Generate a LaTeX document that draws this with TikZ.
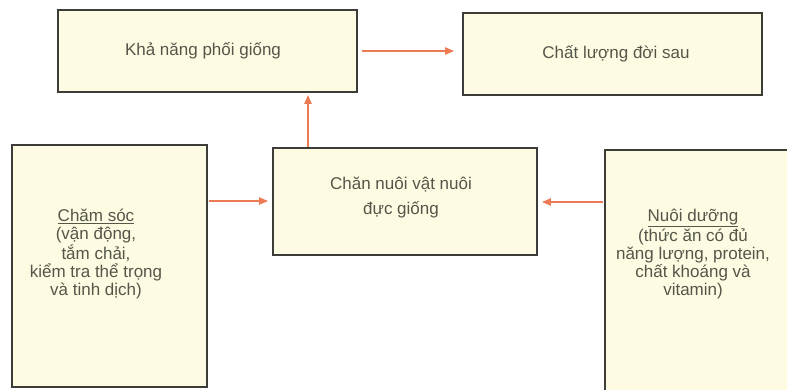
\documentclass[tikz,border=0pt]{standalone}
\usepackage{fontspec}
\setmainfont{Liberation Sans}
\usetikzlibrary{arrows.meta}
\definecolor{boxfill}{HTML}{FDFCE2}
\definecolor{boxline}{HTML}{3C3C38}
\definecolor{txt}{HTML}{55554A}
\definecolor{arr}{HTML}{EC7A52}
\begin{document}
\begin{tikzpicture}[x=1pt,y=-1pt,
  box/.style={draw=boxline, line width=1.6pt, fill=boxfill, inner sep=0pt},
  lbl/.style={text=txt, font=\fontsize{17}{18}\selectfont, align=center, inner sep=0pt},
  link/.style={draw=arr, line width=1.9pt, -{Triangle[length=9pt,width=7pt]}}]
\useasboundingbox (0,0) rectangle (787,389);
% top boxes
\node[box, minimum width=299pt, minimum height=82pt] (kn) at (207.5,51) {};
\node[lbl] (knt) at (203,51) {Khả năng phối giống};
\node[box, minimum width=299pt, minimum height=82pt] (cl) at (612.5,54) {};
\node[lbl] (clt) at (616,54) {Chất lượng đời sau};
% centre box
\node[box, minimum width=264pt, minimum height=107pt] (cn) at (405,201.5) {};
\node[lbl, font=\fontsize{17}{25}\selectfont] (cnt) at (401,197.5) {Chăn nuôi vật nuôi\\đực giống};
% left box
\node[box, minimum width=195pt, minimum height=242pt] (cs) at (109.5,266) {};
\node[lbl] (cst) at (96,254) {\underline{Chăm sóc}\\(vận động,\\tắm chải,\\kiểm tra thể trọng\\và tinh dịch)};
% right box (runs past the right edge)
\node[box, minimum width=200pt, minimum height=250pt] (nd) at (705,275) {};
\node[lbl] (ndt) at (693,254) {\underline{Nuôi dưỡng}\\(thức ăn có đủ\\năng lượng, protein,\\chất khoáng và\\vitamin)};
% connectors
\draw[link] ([xshift=4pt]kn.east) -- ([xshift=-8pt]cl.west |- kn.east);
\draw[link] (cn.north -| 308,0) -- ([yshift=-2pt]kn.south -| 308,0);
\draw[link] ([xshift=1pt]cs.east |- 0,201) -- ([xshift=-4pt]cn.west |- 0,201);
\draw[link] ([xshift=-1pt]nd.west |- 0,202) -- ([xshift=4pt]cn.east |- 0,202);
\end{tikzpicture}
\end{document}
